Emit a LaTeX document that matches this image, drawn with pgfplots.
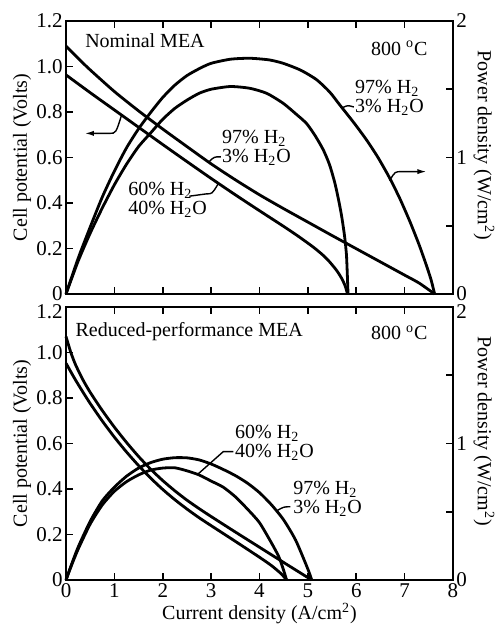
\documentclass[border=0pt]{standalone}
\usepackage{fontspec}
\setmainfont{Liberation Serif}
\usepackage{pgfplots}
\pgfplotsset{compat=1.18}
\usetikzlibrary{arrows.meta}

\newcommand{\fs}{\fontsize{10}{10}\selectfont}
\newcommand{\fl}{\fontsize{10.5}{11}\selectfont}
\newcommand{\Hd}{H\textsubscript{2}}
\newcommand{\Hw}{H\textsubscript{2}O}

\tikzset{
  txt/.style={font=\fs, inner sep=0pt, align=left},
  lead/.style={black, line width=0.7pt},
}
\pgfplotsset{
  vpanel/.style={
    width=193.5pt, height=136.5pt, scale only axis,
    xmin=0, xmax=8, ymin=0, ymax=1.2,
    xtick={0,1,2,3,4,5,6,7,8},
    ytick={0,0.2,0.4,0.6,0.8,1.0,1.2},
    yticklabels={0,0.2,0.4,0.6,0.8,1.0,1.2},
    tick align=inside, major tick length=3.5pt,
    xtick pos=both, ytick pos=left,
    axis line style={line width=0.9pt},
    every tick/.style={black, line width=0.8pt},
    tick label style={font=\fl, inner sep=1.5pt},
    label style={font=\fl},
    /pgf/number format/assume math mode=true,
    every axis y label/.style={at={(axis description cs:-0.1137,0.5)}, rotate=90, anchor=center},
    ylabel={Cell potential (Volts)},
    clip=false,
  },
  ppanel/.style={
    width=193.5pt, height=136.5pt, scale only axis,
    xmin=0, xmax=8, ymin=0, ymax=2,
    axis x line=none, axis y line*=right,
    ytick={0,0.5,1,1.5,2}, yticklabels={0,,1,,2},
    tick align=inside, major tick length=3.5pt,
    axis line style={line width=0.9pt},
    every tick/.style={black, line width=0.8pt},
    tick label style={font=\fl, inner sep=1.5pt},
    label style={font=\fl},
    every axis y label/.style={at={(axis description cs:1.08,0.545)}, rotate=-90, anchor=center},
    ylabel={Power density (W/cm\textsuperscript{2})},
    clip=false,
  },
  curve/.style={black, line width=1.4pt, smooth, tension=0.4, mark=none},
}

\begin{document}
\begin{tikzpicture}
% ---------------- top panel: nominal MEA ----------------
\begin{axis}[vpanel, at={(0,0)}, xticklabels={}]
  % 97% H2 / 3% H2O
  \addplot[curve] coordinates {(0,1.09) (0.25,1.036) (0.5,0.985) (1.0,0.89) (1.5,0.805) (2.0,0.725)
    (2.5,0.648) (3.0,0.572) (3.5,0.502) (4.0,0.436) (4.5,0.375) (5.0,0.316) (5.5,0.257) (6.0,0.199)
    (6.5,0.141) (7.0,0.083) (7.3,0.048) (7.62,0)};
  % 60% H2 / 40% H2O
  \addplot[curve] coordinates {(0,0.963) (0.5,0.885) (1.0,0.809) (1.5,0.733) (2.0,0.657) (2.5,0.582)
    (3.0,0.508) (3.5,0.436) (4.0,0.366) (4.5,0.297) (4.8,0.254) (5.1,0.208) (5.3,0.173) (5.45,0.141)
    (5.6,0.102) (5.7,0.068) (5.77,0.036) (5.82,0)};
  \node[txt, anchor=west] at (axis cs:0.39,1.112) {Nominal MEA};
  \node[txt, anchor=east] at (axis cs:7.48,1.08) {800 \textsuperscript{o}C};
  \node[txt, anchor=west] at (axis cs:5.97,0.862) {97\% \Hd\\[-0.5pt]3\% \Hw};
  \node[txt, anchor=west] at (axis cs:3.22,0.642) {97\% \Hd\\[-0.5pt]3\% \Hw};
  \node[txt, anchor=west] at (axis cs:1.28,0.413) {60\% \Hd\\[-0.5pt]40\% \Hw};
  \draw[lead] (axis cs:3.2,0.603) .. controls (axis cs:3.06,0.603) .. (axis cs:2.95,0.58);
  \draw[lead] (axis cs:2.55,0.43) -- (axis cs:2.9,0.44) .. controls (axis cs:3.02,0.44) .. (axis cs:3.14,0.482);
  \draw[lead] (axis cs:5.95,0.822) .. controls (axis cs:5.82,0.83) .. (axis cs:5.71,0.818);
  \draw[lead, -{Latex[length=4.5pt,width=2.6pt]}] (axis cs:1.15,0.787)
    .. controls (axis cs:1.03,0.706) .. (axis cs:0.9,0.706) -- (axis cs:0.39,0.706);
  \draw[lead, -{Latex[length=4.5pt,width=2.6pt]}] (axis cs:6.69,0.498)
    .. controls (axis cs:6.8,0.538) .. (axis cs:6.94,0.538) -- (axis cs:7.45,0.538);
\end{axis}
\begin{axis}[ppanel, at={(0,0)}]
  \addplot[curve] coordinates {(0,0) (0.25,0.26) (0.5,0.49) (0.75,0.71) (1.0,0.90) (1.25,1.07)
    (1.5,1.21) (1.75,1.33) (2.0,1.44) (2.25,1.53) (2.5,1.60) (2.75,1.65) (3.0,1.69) (3.4,1.72)
    (3.8,1.727) (4.2,1.715) (4.49,1.69) (4.85,1.64) (5.18,1.57) (5.45,1.48) (5.66,1.385)
    (5.95,1.255) (6.21,1.13) (6.45,1.0) (6.69,0.85) (6.9,0.70) (7.11,0.53) (7.3,0.36)
    (7.45,0.21) (7.55,0.10) (7.62,0)};
  \addplot[curve] coordinates {(0,0) (0.25,0.24) (0.5,0.445) (0.75,0.63) (1.0,0.80) (1.25,0.95)
    (1.5,1.08) (1.75,1.18) (2.0,1.28) (2.25,1.36) (2.5,1.42) (2.75,1.47) (3.0,1.50) (3.4,1.52)
    (3.8,1.507) (4.15,1.47) (4.49,1.397) (4.75,1.32) (4.97,1.25) (5.15,1.16) (5.32,1.055)
    (5.45,0.945) (5.56,0.81) (5.64,0.68) (5.7,0.566) (5.76,0.42) (5.8,0.273) (5.83,0)};
\end{axis}

% ---------------- bottom panel: reduced-performance MEA ----------------
\begin{axis}[vpanel, at={(0,-143pt)},
  ytick={0,0.2,0.4,0.6,0.8,1.0}, yticklabels={0,0.2,0.4,0.6,0.8,1.0},
  extra y ticks={1.2}, extra y tick labels={1.2},
  extra y tick style={tick align=inside, yticklabel style={yshift=-2.5pt}},
  xlabel={Current density (A/cm\textsuperscript{2})},
  every axis x label/.style={at={(axis description cs:0.5,-0.122)}, anchor=center, inner sep=0pt}]
  % 97% H2 / 3% H2O
  \addplot[curve] coordinates {(0,1.07) (0.1,1.0) (0.2,0.945) (0.35,0.88) (0.5,0.825) (0.75,0.745)
    (1.0,0.672) (1.25,0.605) (1.5,0.543) (1.75,0.487) (2.0,0.437) (2.25,0.392) (2.5,0.351)
    (2.75,0.314) (3.0,0.279) (3.5,0.211) (4.0,0.144) (4.5,0.077) (5.08,0)};
  % 60% H2 / 40% H2O
  \addplot[curve] coordinates {(0,0.953) (0.1,0.915) (0.2,0.878) (0.35,0.826) (0.5,0.776) (0.75,0.699)
    (1.0,0.628) (1.25,0.563) (1.5,0.503) (1.75,0.448) (2.0,0.398) (2.25,0.353) (2.5,0.312)
    (2.75,0.274) (3.0,0.239) (3.5,0.17) (4.0,0.10) (4.25,0.063) (4.45,0.027) (4.56,0)};
  \node[txt, anchor=west] at (axis cs:0.19,1.09) {Reduced-performance MEA};
  \node[txt, anchor=east] at (axis cs:7.48,1.085) {800 \textsuperscript{o}C};
  \node[txt, anchor=west] at (axis cs:3.49,0.604) {60\% \Hd\\[-0.5pt]40\% \Hw};
  \node[txt, anchor=west] at (axis cs:4.69,0.356) {97\% \Hd\\[-0.5pt]3\% \Hw};
  \draw[lead] (axis cs:3.46,0.564) -- (axis cs:3.25,0.564) -- (axis cs:2.73,0.466);
  \draw[lead] (axis cs:4.64,0.322) .. controls (axis cs:4.5,0.322) .. (axis cs:4.34,0.302);
\end{axis}
\begin{axis}[ppanel, at={(0,-143pt)},
  ytick={0,0.5,1,1.5}, yticklabels={0,,1,},
  extra y ticks={2}, extra y tick labels={2},
  extra y tick style={tick align=inside, yticklabel style={yshift=-2.5pt}}]
  \addplot[curve] coordinates {(0,0) (0.1,0.10) (0.25,0.24) (0.5,0.43) (0.75,0.58) (1.0,0.68)
    (1.25,0.76) (1.5,0.82) (1.75,0.86) (2.0,0.885) (2.25,0.896) (2.5,0.895) (2.75,0.88) (3.0,0.85)
    (3.25,0.81) (3.5,0.765) (3.75,0.71) (4.0,0.64) (4.25,0.55) (4.5,0.44) (4.75,0.29) (5.0,0.08) (5.08,0)};
  \addplot[curve] coordinates {(0,0) (0.1,0.095) (0.25,0.225) (0.5,0.41) (0.75,0.55) (1.0,0.65)
    (1.25,0.72) (1.5,0.77) (1.75,0.805) (2.0,0.82) (2.25,0.822) (2.5,0.80) (2.75,0.77) (3.0,0.725)
    (3.25,0.68) (3.5,0.61) (3.75,0.52) (4.0,0.42) (4.25,0.27) (4.4,0.17) (4.5,0.07) (4.56,0)};
\end{axis}

\pgfresetboundingbox
\path[use as bounding box] (-33pt,-165pt) rectangle (214.5pt,147pt);
\end{tikzpicture}
\end{document}
